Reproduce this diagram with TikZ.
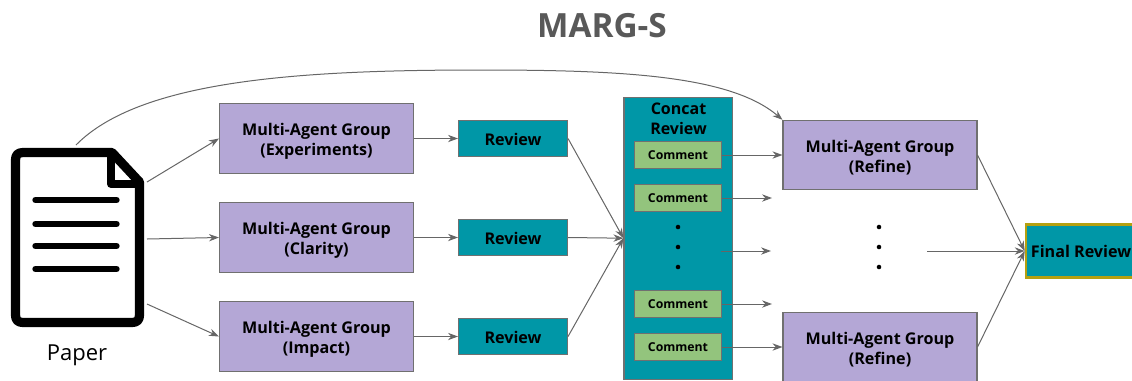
\documentclass[tikz,border=0pt]{standalone}
\usepackage{fontspec}
\setmainfont{Open Sans}
\usetikzlibrary{arrows.meta}
\definecolor{purplefill}{HTML}{B4A7D6}
\definecolor{tealfill}{HTML}{0097A7}
\definecolor{greenfill}{HTML}{93C47D}
\definecolor{edgegray}{HTML}{707070}
\definecolor{linegray}{HTML}{666666}
\definecolor{goldedge}{HTML}{B5A010}
\definecolor{titlegray}{HTML}{595959}
\newcommand\twolines[2]{\makebox[0pt][c]{\raisebox{2.2pt}[0pt][0pt]{#1}}\makebox[0pt][c]{\raisebox{-12.8pt}[0pt][0pt]{#2}}}
\tikzset{
  x=0.75pt,y=-0.75pt,
  box/.style={draw=edgegray,line width=0.8pt,inner sep=0pt,align=center,text=black},
  groupbox/.style={box,fill=purplefill,minimum width=145.5pt,minimum height=52pt,font=\fontsize{12.1}{15}\selectfont\bfseries},
  reviewbox/.style={box,fill=tealfill,minimum width=81.75pt,minimum height=26.5pt,font=\fontsize{12.1}{15}\selectfont\bfseries,execute at begin node=\rule{0pt}{10.5pt}},
  commentbox/.style={box,fill=greenfill,minimum width=65.5pt,minimum height=20pt,font=\fontsize{9.2}{11}\selectfont\bfseries},
  concatbox/.style={box,fill=tealfill,minimum width=81.5pt,minimum height=211.5pt},
  finalbox/.style={box,draw=goldedge,line width=1.9pt,fill=tealfill,minimum width=82.5pt,minimum height=39.5pt,font=\fontsize{12.1}{15}\selectfont\bfseries},
  flow/.style={draw=linegray,line width=0.75pt,-{Stealth[length=7.5pt,width=5.5pt]}},
  dotmark/.style={circle,fill=black,inner sep=0pt,minimum size=3.4pt},
  docline/.style={line width=4.8pt,line cap=round,black},
}
\begin{document}
\begin{tikzpicture}
\useasboundingbox (0,0) rectangle (1132,380);
\clip (0,0) rectangle (1132,380);
% title
\node[font=\fontsize{25}{30}\selectfont\bfseries,text=titlegray] (title) at (602,25.5) {MARG-S};
% paper icon
\draw[line width=6.9pt,line join=round,black]
  (15.5,160) .. controls (15.5,155) and (18,152.5) .. (23,152.5) -- (112,152.5) -- (139.5,182)
  -- (139.5,315) .. controls (139.5,320) and (137,322.5) .. (132,322.5) -- (23,322.5)
  .. controls (18,322.5) and (15.5,320) .. (15.5,315) -- cycle;
\draw[line width=6pt,line join=round,black] (111,153) -- (111,184) -- (139,184);
\draw[docline] (35.5,200) -- (116.5,200);
\draw[docline] (35.5,224) -- (116.5,224);
\draw[docline] (35.5,246) -- (116.5,246);
\draw[docline] (35.5,269) -- (116.5,269);
\node[font=\fontsize{16.5}{20}\selectfont] (paper) at (77,355) {Paper};
\coordinate (docA) at (147,182);
\coordinate (docB) at (147,239);
\coordinate (docC) at (147,304);
\coordinate (docTop) at (76,145);
% groups
\node[groupbox] (g1) at (316.5,138.5) {\twolines{Multi-Agent Group}{(Experiments)}};
\node[groupbox] (g2) at (316.5,237.5) {\twolines{Multi-Agent Group}{(Clarity)}};
\node[groupbox] (g3) at (316.5,336.5) {\twolines{Multi-Agent Group}{(Impact)}};
% reviews
\node[reviewbox] (r1) at (513,138.5) {Review};
\node[reviewbox] (r2) at (513,237.5) {Review};
\node[reviewbox] (r3) at (513,336.5) {Review};
% concat
\node[concatbox] (concat) at (678.3,238.2) {};
\node[font=\fontsize{12}{15}\selectfont\bfseries,align=center] (concatlabel) at (678.5,118.7) {Concat\\Review};
\node[commentbox] (c1) at (678,155) {Comment};
\node[commentbox] (c2) at (678,198) {Comment};
\node[commentbox] (c3) at (678,304) {Comment};
\node[commentbox] (c4) at (678,347) {Comment};
\node[dotmark] (d1) at (678,227) {};
\node[dotmark] (d2) at (678,247) {};
\node[dotmark] (d3) at (678,267) {};
% refine
\node[groupbox] (f1) at (880,155) {\twolines{Multi-Agent Group}{(Refine)}};
\node[groupbox] (f2) at (880,347) {\twolines{Multi-Agent Group}{(Refine)}};
\node[dotmark] (e1) at (879,227) {};
\node[dotmark] (e2) at (879,247) {};
\node[dotmark] (e3) at (879,267) {};
% final
\node[finalbox] (final) at (1081,251) {Final Review};
% free ends
\coordinate (c2end) at (772,198);
\coordinate (midstart) at (721,251);
\coordinate (midend) at (771,251);
\coordinate (c3end) at (772,304);
\coordinate (rightstart) at (927,251);
% connectors
\draw[flow] (docA) -- (g1.west);
\draw[flow] (docB) -- (g2.west);
\draw[flow] (docC) -- (g3.west);
\draw[flow] (g1.east) -- (r1.west);
\draw[flow] (g2.east) -- (r2.west);
\draw[flow] (g3.east) -- (r3.west);
\draw[flow] (r1.east) -- (concat.west);
\draw[flow] (r2.east) -- (concat.west);
\draw[flow] (r3.east) -- (concat.west);
\draw[flow] (c1.east) -- (f1.west);
\draw[flow] (c2.east) -- (c2end);
\draw[flow] (midstart) -- (midend);
\draw[flow] (c3.east) -- (c3end);
\draw[flow] (c4.east) -- (f2.west);
\draw[flow] (f1.east) -- (final.west);
\draw[flow] (rightstart) -- (final.west);
\draw[flow] (f2.east) -- (final.west);
\draw[flow] (docTop) .. controls (140,80) and (300,70) .. (480,70)
  .. controls (620,70) and (730,75) .. (f1.north west);
\end{tikzpicture}
\end{document}
